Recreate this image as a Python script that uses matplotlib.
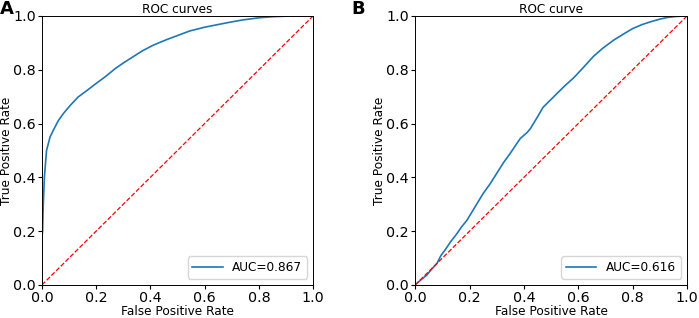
import matplotlib
matplotlib.use('Agg')
import matplotlib.pyplot as plt

# Panel A: ROC curve
fpr_a = [0.0, 0.0, 0.0025, 0.005, 0.009, 0.017, 0.03, 0.042, 0.06, 0.079, 0.105, 0.134,
         0.165, 0.2, 0.235, 0.27, 0.3, 0.336, 0.37, 0.41, 0.46, 0.5, 0.545, 0.6,
         0.68, 0.74, 0.8, 0.85, 0.9, 0.95, 1.0]
tpr_a = [0.0, 0.18, 0.20, 0.30, 0.40, 0.50, 0.55, 0.575, 0.61, 0.637, 0.668, 0.699,
         0.722, 0.749, 0.775, 0.804, 0.825, 0.848, 0.87, 0.891, 0.912, 0.927, 0.944, 0.958,
         0.974, 0.985, 0.993, 0.997, 0.999, 1.0, 1.0]
auc_a = 0.867

# Panel B: ROC curve
fpr_b = [0.0, 0.02, 0.043, 0.06, 0.08, 0.095, 0.11, 0.13, 0.153, 0.17, 0.19, 0.22,
         0.25, 0.275, 0.30, 0.325, 0.35, 0.37, 0.387, 0.41, 0.423, 0.45, 0.47, 0.5,
         0.52, 0.55, 0.583, 0.62, 0.656, 0.69, 0.73, 0.77, 0.80, 0.835, 0.865, 0.9,
         0.926, 0.96, 1.0]
tpr_b = [0.0, 0.018, 0.037, 0.058, 0.08, 0.11, 0.13, 0.16, 0.19, 0.215, 0.24, 0.29,
         0.34, 0.375, 0.415, 0.455, 0.49, 0.52, 0.545, 0.565, 0.58, 0.625, 0.66, 0.69,
         0.71, 0.74, 0.77, 0.81, 0.85, 0.88, 0.91, 0.935, 0.953, 0.968, 0.978, 0.988,
         0.994, 0.998, 1.0]
auc_b = 0.616

ticks = [0.0, 0.2, 0.4, 0.6, 0.8, 1.0]

fig = plt.figure(figsize=(6.99, 3.18), dpi=100)
ax_a = fig.add_axes([0.060, 0.104, 0.388, 0.846])
ax_b = fig.add_axes([0.594, 0.104, 0.389, 0.846])

panels = [(ax_a, fpr_a, tpr_a, auc_a, 'ROC curves', 'A'),
          (ax_b, fpr_b, tpr_b, auc_b, 'ROC curve', 'B')]

for ax, fpr, tpr, auc, title, letter in panels:
    ax.plot(fpr, tpr, color='#1f77b4', lw=1.2, label='AUC=%.3f' % auc)
    ax.plot([0, 1], [0, 1], 'r--', lw=0.9)
    ax.set_xlim(0, 1)
    ax.set_ylim(0, 1)
    ax.set_xticks(ticks)
    ax.set_yticks(ticks)
    ax.tick_params(labelsize=10.3, length=3, pad=1.5)
    ax.set_title(title, fontsize=8.7, pad=2)
    ax.set_xlabel('False Positive Rate', fontsize=8.7, labelpad=0)
    ax.set_ylabel('True Positive Rate', fontsize=8.7, labelpad=0)
    ax.legend(loc='lower right', fontsize=8.7, handlelength=2.5)
    for s in ax.spines.values():
        s.set_linewidth(0.7)

fig.text(0.0, 1.0, 'A', fontsize=13, fontweight='bold', va='top', ha='left')
fig.text(0.503, 1.0, 'B', fontsize=13, fontweight='bold', va='top', ha='left')

fig.savefig('out.png', dpi=100)
